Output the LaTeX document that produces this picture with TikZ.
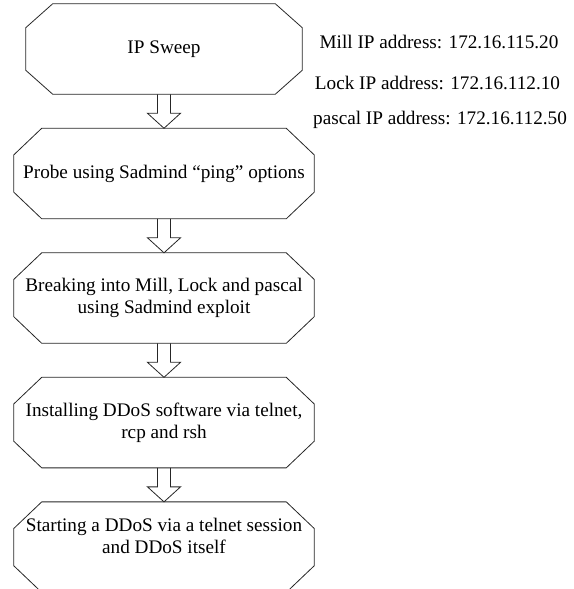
\documentclass[tikz,border=0pt]{standalone}
\usepackage{fontspec}
\setmainfont{Liberation Serif}
\usetikzlibrary{positioning}

\tikzset{
    x=0.75pt, y=0.75pt,
    stepbox/.style={minimum width=225pt, minimum height=67.5pt, inner sep=0pt,
        align=center, font=\fontsize{14.4}{16.5}\selectfont},
    iplabel/.style={inner sep=0pt, font=\fontsize{14.4}{16.5}\selectfont},
    outline/.style={draw=black!85, line width=0.6pt},
}

% octagon round a node: name, horizontal cut, vertical cut
\newcommand{\octagon}[3]{%
    \draw[outline] ([xshift=#2]#1.north west) -- ([xshift=-#2]#1.north east)
        -- ([yshift=-#3]#1.north east) -- ([yshift=#3]#1.south east)
        -- ([xshift=-#2]#1.south east) -- ([xshift=#2]#1.south west)
        -- ([yshift=#3]#1.south west) -- ([yshift=-#3]#1.north west) -- cycle;}

% hollow block arrow from one box down to the next
\newcommand{\blockarrow}[2]{%
    \draw[outline] ([xshift=-4.9pt]#1.south) -- ([xshift=-4.9pt,yshift=11.25pt]#2.north)
        -- ([xshift=-12.4pt,yshift=11.25pt]#2.north) -- (#2.north)
        -- ([xshift=12.4pt,yshift=11.25pt]#2.north) -- ([xshift=4.9pt,yshift=11.25pt]#2.north)
        -- ([xshift=4.9pt]#1.south);}

\begin{document}
\begin{tikzpicture}

    \useasboundingbox (0,0) rectangle (574,589);

    \node[stepbox, minimum width=207pt] (sweep) at (164,540) {IP Sweep};
    \node[stepbox, below=25.5pt of sweep] (probe) {Probe using Sadmind ``ping'' options};
    \node[stepbox, below=25.5pt of probe] (breakin) {Breaking into Mill, Lock and pascal\\using Sadmind exploit};
    \node[stepbox, below=25.5pt of breakin] (install) {Installing DDoS software via telnet,\\rcp and rsh};
    \node[stepbox, below=25.5pt of install] (start) {Starting a DDoS via a telnet session\\and DDoS itself\\~};

    \octagon{sweep}{20.25pt}{18pt}
    \foreach \n in {probe,breakin,install,start} {\octagon{\n}{21pt}{20pt}}

    \foreach \a/\b in {sweep/probe,probe/breakin,breakin/install,install/start} {\blockarrow{\a}{\b}}

    \node[iplabel] (mill) at (439,547) {Mill IP address: 172.16.115.20};
    \node[iplabel] (lock) at (437.5,506) {Lock IP address: 172.16.112.10};
    \node[iplabel] (pascal) at (440,469) {pascal IP address: 172.16.112.50};

\end{tikzpicture}
\end{document}
